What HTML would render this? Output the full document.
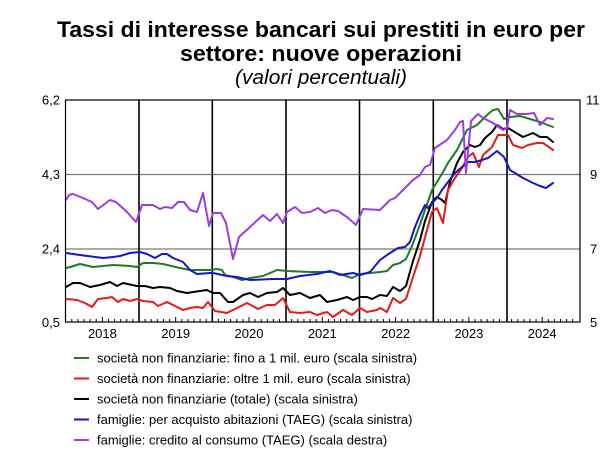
<!DOCTYPE html>
<html><head><meta charset="utf-8"><style>
html,body{margin:0;padding:0;background:#fff;}
svg{display:block;}
text{font-family:"Liberation Sans",Arial,sans-serif;fill:#000;}
</style></head><body>
<svg width="604" height="455" viewBox="0 0 604 455" xmlns="http://www.w3.org/2000/svg">
<rect width="604" height="455" fill="#fff"/>
<text x="321" y="37" font-size="22.5" font-weight="bold" text-anchor="middle" textLength="528" lengthAdjust="spacingAndGlyphs">Tassi di interesse bancari sui prestiti in euro per</text>
<text x="321" y="61" font-size="22.5" font-weight="bold" text-anchor="middle" textLength="282" lengthAdjust="spacingAndGlyphs">settore: nuove operazioni</text>
<text x="321" y="84" font-size="20" font-style="italic" text-anchor="middle" textLength="172" lengthAdjust="spacingAndGlyphs">(valori percentuali)</text>

<!-- grid -->
<line x1="65.5" y1="174.5" x2="580" y2="174.5" stroke="#777" stroke-width="1.3"/>
<line x1="65.5" y1="249" x2="580" y2="249" stroke="#777" stroke-width="1.3"/>
<!-- year separators -->
<g stroke="#000" stroke-width="1.6">
<line x1="139" y1="100" x2="139" y2="322"/>
<line x1="212.3" y1="100" x2="212.3" y2="322"/>
<line x1="286" y1="100" x2="286" y2="322"/>
<line x1="359.5" y1="100" x2="359.5" y2="322"/>
<line x1="433.3" y1="100" x2="433.3" y2="322"/>
<line x1="507" y1="100" x2="507" y2="322"/>
</g>
<!-- ticks -->
<g stroke="#000" stroke-width="1">
<path d="M71.8 322v-3M77.9 322v-3M84 322v-3M90.1 322v-3M96.2 322v-3M102.4 322v-5M108.5 322v-3M114.6 322v-3M120.7 322v-3M126.8 322v-3M132.9 322v-3
M145.1 322v-3M151.2 322v-3M157.3 322v-3M163.4 322v-3M169.6 322v-3M175.7 322v-5M181.8 322v-3M187.9 322v-3M194 322v-3M200.1 322v-3M206.2 322v-3
M218.4 322v-3M224.5 322v-3M230.6 322v-3M236.8 322v-3M242.9 322v-3M249 322v-5M255.1 322v-3M261.2 322v-3M267.3 322v-3M273.4 322v-3M279.5 322v-3
M291.7 322v-3M297.8 322v-3M303.9 322v-3M310 322v-3M316.2 322v-3M322.3 322v-5M328.4 322v-3M334.5 322v-3M340.6 322v-3M346.7 322v-3M352.8 322v-3
M365 322v-3M371.1 322v-3M377.2 322v-3M383.4 322v-3M389.5 322v-3M395.6 322v-5M401.7 322v-3M407.8 322v-3M413.9 322v-3M420 322v-3M426.1 322v-3
M438.3 322v-3M444.4 322v-3M450.6 322v-3M456.7 322v-3M462.8 322v-3M468.9 322v-5M475 322v-3M481.1 322v-3M487.2 322v-3M493.3 322v-3M499.4 322v-3
M511.6 322v-3M517.8 322v-3M523.9 322v-3M530 322v-3M536.1 322v-3M542.2 322v-5M548.3 322v-3M554.4 322v-3M560.5 322v-3M566.6 322v-3M572.7 322v-3"/>
</g>

<g fill="none" stroke-width="2" stroke-linejoin="round" stroke-linecap="round">
<polyline stroke="#000" points="66,287 73,283 80,283 90,287 100,285 110,282 117,286 123,283 137,286 145,286 153,288 160,287 170,288 177,291 187,293 200,291 207,290 213,293 220,293 228,302 233,302 243,295 250,293 258,297 267,293 277,292 283,288 290,295 300,293 310,298 320,295 327,302 337,300 347,297 353,300 360,297 367,297 372,299 380,295 387,296 393,287 400,291 406,286 413,261 420,240 425,221 432,202 437,197 442,200 445,203 450,182 457,163 463,152 470,145 475,147 480,145 485,138 492,132 497,125 503,129 508,128 523,137 533,133 540,137 547,137 553,142"/>
<polyline stroke="#e21c1c" points="66,299 77,300 85,303 92,307 98,299 107,298 112,297 118,302 123,299 130,301 137,299 143,301 153,302 158,306 167,302 173,305 183,310 190,308 197,307 203,308 208,302 215,311 227,313 237,308 247,303 258,309 267,305 275,305 283,298 290,312 300,313 310,312 317,315 327,312 333,317 343,310 352,315 360,308 367,312 377,310 380,308 387,312 393,298 400,303 406,299 413,277 420,256 427,230 432,212 437,208 443,223 448,190 455,178 462,168 468,157 473,153 479,167 483,155 492,147 498,135 508,135 513,145 522,148 528,145 537,143 543,143 553,150"/>
<polyline stroke="#237a23" points="66,268 70,267 80,264 93,267 113,265 130,266 137,267 143,263 153,263 163,264 180,268 190,270 210,270 217,269 222,270 225,275 233,277 242,280 250,278 263,276 277,270 287,271 310,272 333,272 343,275 352,278 360,274 370,273 380,272 387,271 393,265 400,263 406,259 412,246 418,230 425,210 432,190 437,182 443,172 448,163 457,150 462,140 467,130 477,125 487,115 493,110 498,109 504,119 510,117 520,116 530,119 540,122 553,127"/>
<polyline stroke="#1515cc" points="66,253 80,255 103,258 113,257 120,256 130,253 140,252 147,254 155,258 162,254 167,254 173,258 183,262 190,270 197,274 210,273 213,273 227,276 237,277 250,280 273,279 287,279 300,276 317,274 330,271 340,275 353,273 360,275 370,272 380,260 390,253 398,248 405,247 410,242 415,227 420,215 425,205 428,208 432,203 437,198 442,190 448,182 455,173 462,167 468,162 475,162 482,160 488,158 497,151 504,157 510,170 523,178 533,183 540,186 546,188 553,183"/>
<polyline stroke="#9a3ee0" points="66,200 69,195 73,194 83,198 92,202 98,209 110,200 116,202 127,212 136,222 142,205 153,205 160,209 165,207 172,208 178,202 184,202 190,210 197,212 203,193 209,226 213,213 221,213 226,223 233,259 239,237 250,227 263,215 270,221 277,214 283,223 287,212 295,207 302,213 310,212 318,208 325,213 332,210 338,211 347,217 356,225 363,209 380,210 390,200 395,198 405,188 413,180 420,175 425,167 430,165 435,148 447,140 455,130 460,122 463,121 466,173 471,121 478,114 483,118 493,123 503,130 507,128 510,110 517,114 527,114 534,113 540,125 547,118 553,119"/>
</g>

<!-- plot frame -->
<rect x="65.5" y="100" width="514.5" height="222" fill="none" stroke="#000" stroke-width="1.2"/>

<!-- axis labels -->
<g font-size="13">
<text x="60" y="104.5" text-anchor="end">6,2</text>
<text x="60" y="179" text-anchor="end">4,3</text>
<text x="60" y="253.5" text-anchor="end">2,4</text>
<text x="60" y="327" text-anchor="end">0,5</text>
<text x="586" y="104.5">11</text>
<text x="590" y="179">9</text>
<text x="590" y="253.5">7</text>
<text x="590" y="327">5</text>
</g>
<g font-size="13" text-anchor="middle">
<text x="102.4" y="338">2018</text>
<text x="175.7" y="338">2019</text>
<text x="249" y="338">2020</text>
<text x="322.3" y="338">2021</text>
<text x="395.6" y="338">2022</text>
<text x="468.9" y="338">2023</text>
<text x="542.2" y="338">2024</text>
</g>

<!-- legend -->
<g stroke-width="2">
<line x1="74" y1="358" x2="89" y2="358" stroke="#237a23"/>
<line x1="74" y1="378.5" x2="89" y2="378.5" stroke="#e21c1c"/>
<line x1="74" y1="399" x2="89" y2="399" stroke="#000"/>
<line x1="74" y1="419.5" x2="89" y2="419.5" stroke="#1515cc"/>
<line x1="74" y1="440" x2="89" y2="440" stroke="#9a3ee0"/>
</g>
<g font-size="13">
<text x="97" y="362.5">società non finanziarie: fino a 1 mil. euro (scala sinistra)</text>
<text x="97" y="383">società non finanziarie: oltre 1 mil. euro (scala sinistra)</text>
<text x="97" y="403.5">società non finanziarie (totale) (scala sinistra)</text>
<text x="97" y="424">famiglie: per acquisto abitazioni (TAEG) (scala sinistra)</text>
<text x="97" y="444.5">famiglie: credito al consumo (TAEG) (scala destra)</text>
</g>
</svg>
</body></html>
